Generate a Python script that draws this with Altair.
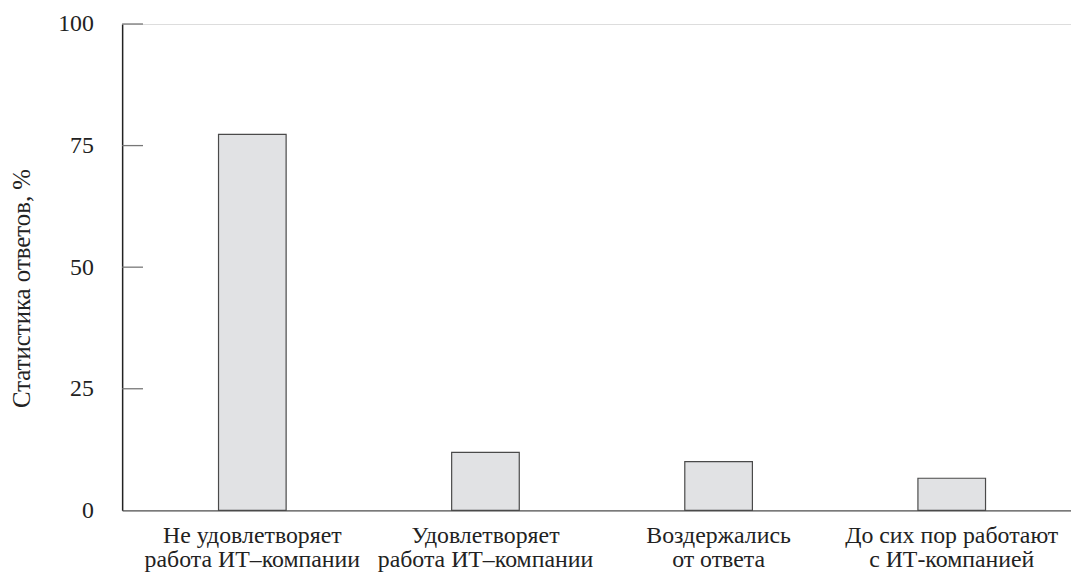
import altair as alt
import pandas as pd

categories = [
    "Не удовлетворяет|работа ИТ–компании",
    "Удовлетворяет|работа ИТ–компании",
    "Воздержались|от ответа",
    "До сих пор работают|с ИТ-компанией",
]
values = [77.3, 11.9, 10.0, 6.6]
y_ticks = [0, 25, 50, 75, 100]

df = pd.DataFrame({"cat": categories, "val": values})
ticks_df = pd.DataFrame({"t": y_ticks[1:]})

FONT = "Liberation Serif"

yscale = alt.Scale(domain=[0, 100], nice=False, zero=True)

bars = alt.Chart(df).mark_bar(
    fill="#e1e2e4", stroke="#4a4a4a", strokeWidth=1.2
).encode(
    x=alt.X(
        "cat:N",
        sort=categories,
        scale=alt.Scale(paddingInner=0.71, paddingOuter=0.39, align=0.53),
        axis=alt.Axis(
            title=None,
            labelAngle=0,
            ticks=False,
            grid=False,
            domain=True,
            domainColor="#555555",
            domainWidth=1.2,
            labelExpr="split(datum.label, '|')",
            labelFont=FONT,
            labelFontSize=24,
            labelColor="#222222",
            labelPadding=13,
            labelLineHeight=25,
            labelBaseline="top",
            labelLimit=0,
        ),
    ),
    y=alt.Y(
        "val:Q",
        scale=yscale,
        axis=alt.Axis(
            title="Статистика ответов, %",
            values=y_ticks,
            ticks=False,
            grid=False,
            domainColor="#222222",
            domainWidth=1.5,
            labelFont=FONT,
            labelFontSize=24,
            labelColor="#222222",
            labelPadding=29,
            titleFont=FONT,
            titleFontSize=25,
            titleFontWeight="normal",
            titleColor="#222222",
            titlePadding=23,
            titleY=266,
        ),
    ),
)

tick_marks = alt.Chart(ticks_df).mark_rule(color="#777777", strokeWidth=1.3).encode(
    y=alt.Y("t:Q", scale=yscale),
    x=alt.value(0),
    x2=alt.value(21),
)

chart = alt.layer(bars, tick_marks).properties(
    width=956,
    height=490,
    autosize=alt.AutoSizeParams(type="none"),
    padding={"left": 115, "top": 14, "right": 0, "bottom": 60},
).configure_view(strokeWidth=0).configure(background="white")

chart.save("out.html", embed_options={"renderer": "svg", "actions": False})
